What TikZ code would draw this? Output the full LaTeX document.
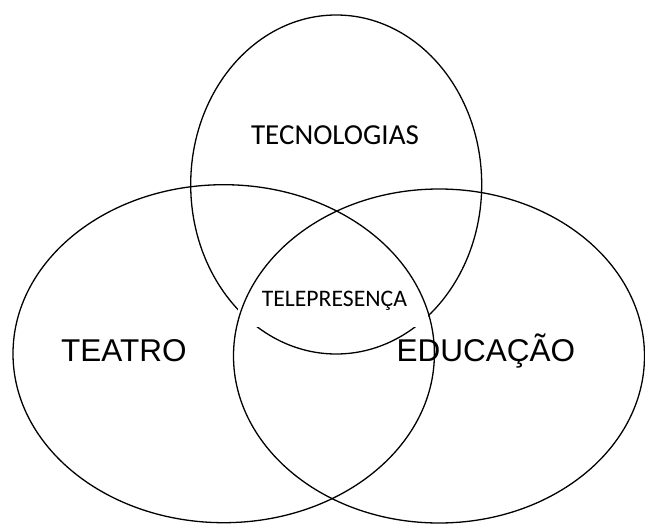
\documentclass[tikz,border=0pt]{standalone}
\usepackage{fontspec}
\setmainfont{Liberation Sans}
\newfontfamily\calib{Carlito}
\begin{document}
\begin{tikzpicture}[x=1pt,y=-1pt,
  ring/.style={draw=black,line width=1.3pt},
  bigtxt/.style={inner sep=0pt,anchor=base,font=\fontsize{31.5}{36}\selectfont},
  midtxt/.style={inner sep=0pt,anchor=base,font=\calib\fontsize{29}{34}\selectfont},
  smalltxt/.style={inner sep=0pt,anchor=base,font=\calib\fontsize{23.7}{28}\selectfont}]
\useasboundingbox (0,0) rectangle (645,524);
% top ellipse
\draw[ring] (336.2,184.5) ellipse [x radius=145.5, y radius=169.5];
% white box behind TELEPRESENCA
\fill[white] (238,280) rectangle (428,327);
% left and right ellipses
\draw[ring] (223.7,353.7) ellipse [x radius=210.7, y radius=169];
\draw[ring] (439,356) ellipse [x radius=205.5, y radius=167];
% labels
\node[midtxt] (tec) at (335,144) {TECNOLOGIAS};
\node[smalltxt] (tel) at (334.4,306) {TELEPRESENÇA};
\node[bigtxt] (tea) at (123.8,361) {TEATRO};
\node[bigtxt] (edu) at (485.9,361) {EDUCAÇÃO};
\end{tikzpicture}
\end{document}
